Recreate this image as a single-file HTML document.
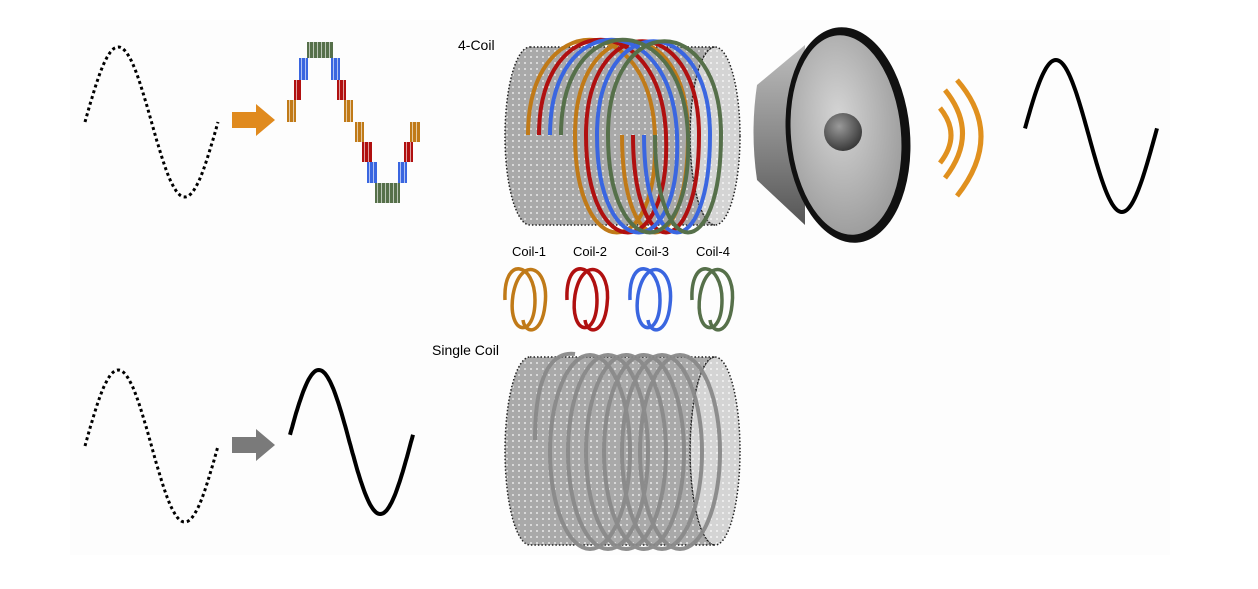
<!DOCTYPE html>
<html><head><meta charset="utf-8"><style>
html,body{margin:0;padding:0;background:#fff;}
svg{display:block;font-family:"Liberation Sans",sans-serif;}
</style></head><body>
<svg id="s" width="1258" height="589" viewBox="0 0 1258 589" xmlns="http://www.w3.org/2000/svg">
<defs>
<pattern id="dots" width="6" height="6" patternUnits="userSpaceOnUse">
<rect width="6" height="6" fill="#a9a9a9"/><circle cx="3" cy="3" r="1" fill="#e8e8e8"/>
</pattern>
<pattern id="dots2" width="6" height="6" patternUnits="userSpaceOnUse">
<rect width="6" height="6" fill="#d4d4d4"/><circle cx="3" cy="3" r="1" fill="#f4f4f4"/>
</pattern>
<radialGradient id="face" cx="0.45" cy="0.4" r="0.7"><stop offset="0" stop-color="#d4d4d4"/><stop offset="1" stop-color="#959595"/></radialGradient>
<radialGradient id="dome" cx="0.4" cy="0.35" r="0.7"><stop offset="0" stop-color="#9a9a9a"/><stop offset="1" stop-color="#333"/></radialGradient>
<linearGradient id="cone" x1="0" y1="0" x2="0" y2="1"><stop offset="0" stop-color="#bdbdbd"/><stop offset="0.5" stop-color="#8c8c8c"/><stop offset="1" stop-color="#555"/></linearGradient>
</defs>
<rect x="0" y="0" width="1258" height="589" fill="#fff"/>
<rect x="70" y="20" width="1100" height="535" fill="#fdfdfd"/>

<g id="g"></g>

<path d="M232,112 H256 V104 L275,120 L256,136 V128 H232 Z" fill="#e08a1e"/>
<path d="M232,437 H256 V429 L275,445 L256,461 V453 H232 Z" fill="#7a7a7a"/>

<ellipse cx="715" cy="136" rx="25" ry="89" fill="url(#dots2)" stroke="#222" stroke-width="1.5" stroke-dasharray="1.5 2"/>
<path d="M530,47 H715 A25,89 0 0 0 715,225 H530 A25,89 0 0 1 530,47 Z" fill="url(#dots)" stroke="#222" stroke-width="1.5" stroke-dasharray="1.5 2"/>
<g id="coils4" fill="none" stroke-width="4"></g>

<text x="458" y="50" font-size="14" fill="#000">4-Coil</text>
<text x="432" y="355" font-size="14" fill="#000">Single Coil</text>
<g font-size="13" fill="#000">
<text x="512" y="256">Coil-1</text><text x="573" y="256">Coil-2</text>
<text x="635" y="256">Coil-3</text><text x="696" y="256">Coil-4</text>
</g>
<g id="small" fill="none" stroke-width="3.5"></g>

<ellipse cx="715" cy="451" rx="25" ry="94" fill="url(#dots2)" stroke="#222" stroke-width="1.5" stroke-dasharray="1.5 2"/>
<path d="M530,357 H715 A25,94 0 0 0 715,545 H530 A25,94 0 0 1 530,357 Z" fill="url(#dots)" stroke="#222" stroke-width="1.5" stroke-dasharray="1.5 2"/>
<g id="coils1" fill="none" stroke="#8a8a8a" stroke-width="4" opacity="0.95"></g>

<path d="M757,85 L805,45 L805,225 L757,180 Q750,132 757,85 Z" fill="url(#cone)"/>
<ellipse cx="848" cy="135" rx="62" ry="108" fill="#111" transform="rotate(-5 848 135)"/>
<ellipse cx="846" cy="135" rx="55" ry="100" fill="url(#face)" transform="rotate(-5 846 135)"/>
<circle cx="843" cy="132" r="19" fill="url(#dome)"/>
<g fill="none" stroke="#e0901e" stroke-width="5">
<path d="M940,108 Q962,135 940,163"/>
<path d="M945,90 Q980,133 945,178"/>
<path d="M957,80 Q1005,135 957,196"/>
</g>
</svg>
<script>
var NS="http://www.w3.org/2000/svg";
function el(p,t,a){var e=document.createElementNS(NS,t);for(var k in a)e.setAttribute(k,a[k]);p.appendChild(e);return e;}
var g=document.getElementById('g');
function sine(x0,x1,cy,amp,phase){var d="";for(var i=0;i<=120;i++){var x=x0+(x1-x0)*i/120;var y=cy-amp*Math.sin(2*Math.PI*(x-x0)/(x1-x0)+phase);d+=(i?"L":"M")+x.toFixed(1)+","+y.toFixed(1);}return d;}
el(g,'path',{d:sine(85,218,122,75,0),fill:'none',stroke:'#000','stroke-width':3,'stroke-dasharray':'3 3'});
el(g,'path',{d:sine(85,218,446,76,0),fill:'none',stroke:'#000','stroke-width':3,'stroke-dasharray':'3 3'});
el(g,'path',{d:sine(290,413,442,72,0.1),fill:'none',stroke:'#000','stroke-width':4});
el(g,'path',{d:sine(1025,1157,136,76,0.1),fill:'none',stroke:'#000','stroke-width':4});
var C={o:'#c07a18',r:'#b01010',b:'#3a66e0',g:'#56704a'};
var bars=[[307,42,26,16,'g'],[299,58,9,22,'b'],[331,58,9,22,'b'],[294,80,7,20,'r'],[337,80,9,20,'r'],[287,100,9,22,'o'],[344,100,9,22,'o'],
[355,122,9,20,'o'],[362,142,10,20,'r'],[367,162,10,21,'b'],[375,183,25,20,'g'],[398,162,9,21,'b'],[404,142,9,20,'r'],[410,122,10,20,'o']];
bars.forEach(function(b){el(g,'rect',{x:b[0],y:b[1],width:b[2],height:b[3],fill:C[b[4]]});
for(var x=b[0]+2;x<b[0]+b[2]-1;x+=4)el(g,'rect',{x:x,y:b[1],width:1,height:b[3],fill:'#fff',opacity:0.6});});
var c4=document.getElementById('coils4');
var cols=['#c07a18','#b01010','#3a66e0','#56704a'];
for(var i=0;i<4;i++){var dx=i*11;
el(c4,'path',{d:'M'+(528+dx)+',135 C'+(528+dx)+',8 '+(650+dx)+',8 '+(655+dx)+',135 C'+(660+dx)+',265 '+(575+dx)+',265 '+(575+dx)+',135 C'+(575+dx)+',10 '+(688+dx)+',10 '+(688+dx)+',135 C'+(688+dx)+',265 '+(622+dx)+',265 '+(622+dx)+',135',stroke:cols[i]});}
var sm=document.getElementById('small');
[[525,cols[0]],[587,cols[1]],[650,cols[2]],[712,cols[3]]].forEach(function(c){var x=c[0];
el(sm,'path',{d:'M'+(x-20)+',300 C'+(x-22)+',255 '+(x+10)+',262 '+(x+10)+',300 C'+(x+10)+',340 '+(x-18)+',335 '+(x-12)+',295 C'+(x-5)+',255 '+(x+25)+',265 '+(x+20)+',305 C'+(x+17)+',335 '+(x)+',335 '+(x-2)+',320',stroke:c[1]});});
var c1=document.getElementById('coils1');
for(var i=0;i<6;i++){var dx=i*18;
el(c1,'ellipse',{cx:590+dx,cy:452,rx:40,ry:97});}
el(c1,'path',{d:'M535,440 C535,360 560,352 575,354'});
</script>
</body></html>
